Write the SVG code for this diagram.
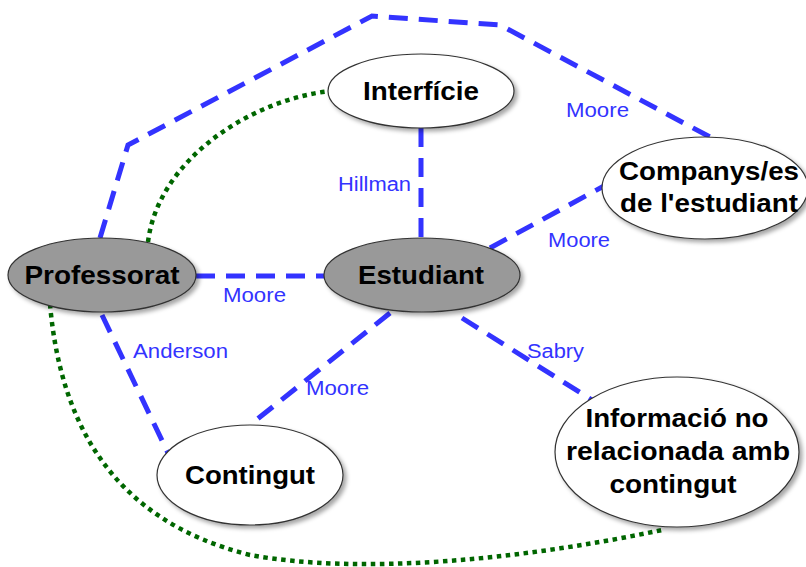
<svg xmlns="http://www.w3.org/2000/svg" width="806" height="567" viewBox="0 0 806 567">
<defs>
<filter id="sh" x="-10%" y="-10%" width="125%" height="130%">
<feDropShadow dx="3" dy="3" stdDeviation="2" flood-color="#000" flood-opacity="0.35"/>
</filter>
<style>
.n{stroke:#333;stroke-width:1.2;filter:url(#sh)}
.w{fill:#fff}
.g{fill:#999}
.t{font-family:"Liberation Sans",Arial,sans-serif;font-weight:bold;font-size:25px;fill:#000;text-anchor:middle}
.l{font-family:"Liberation Sans",Arial,sans-serif;font-size:20px;fill:#3333ff;text-anchor:start}
.d{fill:none;stroke:#3333ff;stroke-width:5;stroke-dasharray:19 11}
.o{fill:none;stroke:#006600;stroke-width:4.5;stroke-dasharray:4.5 4.5}
</style>
</defs>
<rect width="806" height="567" fill="#fff"/>
<g id="connectors">
<path class="d" d="M100,238 L128,145 L372,16 L500,25 L710,137"/>
<path class="d" d="M196,276 L324,276"/>
<path class="d" d="M421,128 L421,238"/>
<path class="d" d="M490,248 L604,186"/>
<path class="d" d="M390,313 L250,425"/>
<path class="d" d="M462,318 L592,400"/>
<path class="d" d="M102,315 L168,453"/>
<path class="o" d="M148,242 C158,160 250,100 330,91"/>
<path class="o" d="M50,304 C60,420 110,520 250,555 C360,575 520,560 662,530"/>
<text class="l" x="566" y="117" textLength="63" lengthAdjust="spacingAndGlyphs">Moore</text>
<text class="l" x="338" y="191" textLength="73" lengthAdjust="spacingAndGlyphs">Hillman</text>
<text class="l" x="548" y="247" textLength="62" lengthAdjust="spacingAndGlyphs">Moore</text>
<text class="l" x="223" y="302" textLength="63" lengthAdjust="spacingAndGlyphs">Moore</text>
<text class="l" x="133" y="358" textLength="95" lengthAdjust="spacingAndGlyphs">Anderson</text>
<text class="l" x="527" y="358" textLength="57" lengthAdjust="spacingAndGlyphs">Sabry</text>
<text class="l" x="306" y="395" textLength="63" lengthAdjust="spacingAndGlyphs">Moore</text>
</g>
<g id="interficie">
<ellipse class="n w" cx="421" cy="91" rx="93" ry="37"/>
<text class="t" x="421" y="100" textLength="116" lengthAdjust="spacingAndGlyphs">Interfície</text>
</g>
<g id="professorat">
<ellipse class="n g" cx="102" cy="275" rx="94" ry="37"/>
<text class="t" x="102" y="284" textLength="155" lengthAdjust="spacingAndGlyphs">Professorat</text>
</g>
<g id="estudiant">
<ellipse class="n g" cx="422" cy="275" rx="98" ry="37"/>
<text class="t" x="421" y="284" textLength="126" lengthAdjust="spacingAndGlyphs">Estudiant</text>
</g>
<g id="companys">
<ellipse class="n w" cx="705" cy="188" rx="103" ry="51"/>
<text class="t" x="709" y="180" textLength="180" lengthAdjust="spacingAndGlyphs">Companys/es</text>
<text class="t" x="709" y="212" textLength="178" lengthAdjust="spacingAndGlyphs">de l'estudiant</text>
</g>
<g id="contingut">
<ellipse class="n w" cx="250" cy="475" rx="93" ry="50"/>
<text class="t" x="250" y="484" textLength="130" lengthAdjust="spacingAndGlyphs">Contingut</text>
</g>
<g id="informacio">
<ellipse class="n w" cx="677" cy="452" rx="122" ry="75"/>
<text class="t" x="677" y="427" textLength="183" lengthAdjust="spacingAndGlyphs">Informació no</text>
<text class="t" x="678" y="460" textLength="224" lengthAdjust="spacingAndGlyphs">relacionada amb</text>
<text class="t" x="673" y="493" textLength="127" lengthAdjust="spacingAndGlyphs">contingut</text>
</g>
</svg>
